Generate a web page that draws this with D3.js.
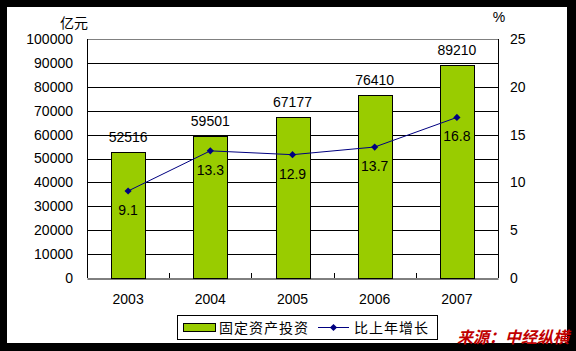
<!DOCTYPE html>
<html>
<head>
<meta charset="utf-8">
<script src="https://cdn.jsdelivr.net/npm/d3@7"></script>
<style>
  html, body { margin: 0; padding: 0; background: #000; }
  svg { display: block; }
  text { font-family: "Liberation Sans", Arial, sans-serif; }
</style>
</head>
<body>
<div id="chart"></div>
<script>
// Data
const years = ["2003", "2004", "2005", "2006", "2007"];
const investment = [52516, 59501, 67177, 76410, 89210];
const growth = [9.1, 13.3, 12.9, 13.7, 16.8];
const leftTicks = [0, 10000, 20000, 30000, 40000, 50000, 60000, 70000, 80000, 90000, 100000];
const rightTicks = [0, 5, 10, 15, 20, 25];

const W = 576, H = 351;
const plot = { left: 87, top: 39, right: 498, bottom: 278 };
const cjk = "'Noto Sans CJK SC', sans-serif";

const svg = d3.select("#chart").append("svg")
    .attr("width", W)
    .attr("height", H);

// white panel inside black frame
svg.append("rect")
    .attr("x", 7).attr("y", 7)
    .attr("width", 560).attr("height", 336)
    .attr("fill", "#fff");

const x = d3.scaleBand()
    .domain(years)
    .range([plot.left, plot.right])
    .paddingInner(0.59)
    .paddingOuter(0.295);

const xCat = d3.scaleBand()
    .domain(years)
    .range([plot.left, plot.right]);

const yL = d3.scaleLinear().domain([0, 100000]).range([plot.bottom, plot.top]);
const yR = d3.scaleLinear().domain([0, 25]).range([plot.bottom, plot.top]);

// gridlines
svg.append("g")
    .selectAll("line")
    .data(leftTicks.slice(1))
    .join("line")
    .attr("x1", plot.left).attr("x2", plot.right)
    .attr("y1", d => Math.round(yL(d)) + 0.5)
    .attr("y2", d => Math.round(yL(d)) + 0.5)
    .attr("stroke", d => d === 100000 ? "#808080" : "#000")
    .attr("stroke-width", 1);

// plot border (left, right verticals)
svg.append("line")
    .attr("x1", plot.left + 0.5).attr("x2", plot.left + 0.5)
    .attr("y1", plot.top).attr("y2", plot.bottom)
    .attr("stroke", "#000");
svg.append("line")
    .attr("x1", plot.right + 0.5).attr("x2", plot.right + 0.5)
    .attr("y1", plot.top).attr("y2", plot.bottom)
    .attr("stroke", "#000");

// bars
svg.append("g")
    .selectAll("rect")
    .data(investment)
    .join("rect")
    .attr("x", (d, i) => Math.round(x(years[i])) + 0.5)
    .attr("y", d => Math.round(yL(d)) + 0.5)
    .attr("width", Math.round(x.bandwidth()))
    .attr("height", d => Math.round(yL(0)) - Math.round(yL(d)))
    .attr("fill", "#99CC00")
    .attr("stroke", "#000")
    .attr("stroke-width", 1);

// x axis
const xAxis = svg.append("g")
    .attr("transform", `translate(0,${Math.round(plot.bottom) + 0.5})`)
    .call(d3.axisBottom(xCat).tickSize(0).tickPadding(16));
xAxis.select(".domain").attr("stroke", "#000");
xAxis.selectAll("text")
    .style("font-size", "14px")
    .attr("fill", "#000");

// category separators (inside ticks)
svg.append("g")
    .selectAll("line")
    .data(years.slice(1))
    .join("line")
    .attr("x1", d => Math.round(xCat(d)) + 0.5)
    .attr("x2", d => Math.round(xCat(d)) + 0.5)
    .attr("y1", plot.bottom - 5)
    .attr("y2", plot.bottom)
    .attr("stroke", "#000");

// left axis labels
const leftAxis = svg.append("g")
    .attr("transform", `translate(${plot.left},0)`)
    .call(d3.axisLeft(yL).tickValues(leftTicks).tickSize(0).tickPadding(14).tickFormat(d3.format("d")));
leftAxis.select(".domain").remove();
leftAxis.selectAll("text").style("font-size", "14px").attr("fill", "#000");

// right axis labels
const rightAxis = svg.append("g")
    .attr("transform", `translate(${plot.right},0)`)
    .call(d3.axisRight(yR).tickValues(rightTicks).tickSize(0).tickPadding(12));
rightAxis.select(".domain").remove();
rightAxis.selectAll("text").style("font-size", "14px").attr("fill", "#000");

// axis units
svg.append("text")
    .attr("x", 74).attr("y", 28)
    .attr("text-anchor", "middle")
    .style("font-size", "14px")
    .style("font-family", cjk)
    .text("亿元");
svg.append("text")
    .attr("x", 499).attr("y", 22)
    .attr("text-anchor", "middle")
    .style("font-size", "14px")
    .text("%");

// bar value labels
svg.append("g")
    .selectAll("text")
    .data(investment)
    .join("text")
    .attr("x", (d, i) => xCat(years[i]) + xCat.bandwidth() / 2)
    .attr("y", d => yL(d) - 10)
    .attr("text-anchor", "middle")
    .style("font-size", "14px")
    .text(d => d);

// growth line
const cx = (d, i) => xCat(years[i]) + xCat.bandwidth() / 2;
const line = d3.line()
    .x((d, i) => cx(d, i))
    .y(d => yR(d));

svg.append("path")
    .datum(growth)
    .attr("d", line)
    .attr("fill", "none")
    .attr("stroke", "#000080")
    .attr("stroke-width", 1);

// diamond marker: square rotated 45deg
const diamond = d3.symbol().type(d3.symbolSquare).size(26);
svg.append("g")
    .selectAll("path")
    .data(growth)
    .join("path")
    .attr("d", diamond)
    .attr("transform", (d, i) => `translate(${cx(d, i)},${yR(d)}) rotate(45)`)
    .attr("fill", "#000080");

svg.append("g")
    .selectAll("text")
    .data(growth)
    .join("text")
    .attr("x", (d, i) => cx(d, i))
    .attr("y", d => yR(d) + 24)
    .attr("text-anchor", "middle")
    .style("font-size", "14px")
    .text(d => d3.format(".1f")(d));

// legend
const legend = svg.append("g");
legend.append("rect")
    .attr("x", 177.5).attr("y", 315.5)
    .attr("width", 260).attr("height", 24)
    .attr("fill", "#fff")
    .attr("stroke", "#000");
legend.append("rect")
    .attr("x", 183.5).attr("y", 323.5)
    .attr("width", 32).attr("height", 8)
    .attr("fill", "#99CC00")
    .attr("stroke", "#000");
legend.append("text")
    .attr("x", 219).attr("y", 333)
    .style("font-size", "14px")
    .style("letter-spacing", "1px")
    .style("font-family", cjk)
    .text("固定资产投资");
legend.append("line")
    .attr("x1", 318).attr("x2", 349)
    .attr("y1", 327.5).attr("y2", 327.5)
    .attr("stroke", "#000080");
legend.append("path")
    .attr("d", diamond)
    .attr("transform", "translate(333.5,327.5) rotate(45)")
    .attr("fill", "#000080");
legend.append("text")
    .attr("x", 354).attr("y", 333)
    .style("font-size", "14px")
    .style("letter-spacing", "1px")
    .style("font-family", cjk)
    .text("比上年增长");

// source note
svg.append("text")
    .attr("x", 569).attr("y", 343)
    .attr("text-anchor", "end")
    .style("font-size", "16px")
    .style("font-weight", "bold")
    .style("font-style", "italic")
    .style("font-family", cjk)
    .attr("fill", "#C00000")
    .text("来源：中经纵横");
</script>
</body>
</html>
